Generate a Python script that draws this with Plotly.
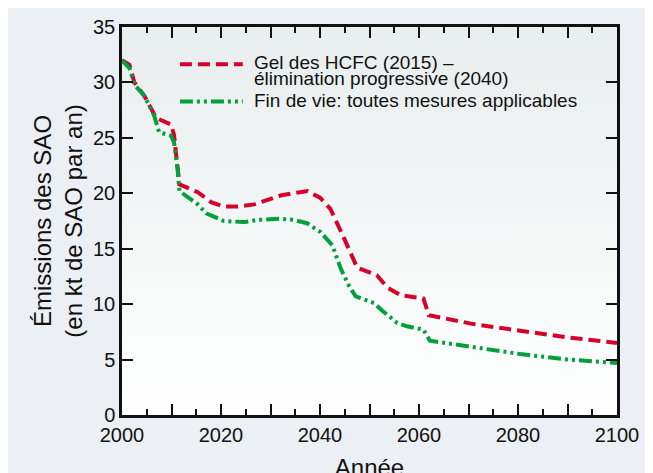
import plotly.graph_objects as go

# Émissions des SAO (kt de SAO par an)
years_gel = [2000, 2001.5, 2002.5, 2004.5, 2006.9, 2008.2, 2009.9, 2010.5, 2011.6,
             2015.3, 2018, 2020.6, 2023.3, 2026.7, 2032, 2036, 2037.5, 2040, 2042.1,
             2044.8, 2047.5, 2051.5, 2053.6, 2056.3, 2060.9, 2062, 2071, 2080.4, 2090, 2100]
gel = [32.0, 31.6, 30.0, 28.8, 26.8, 26.5, 26.2, 25.3, 20.8,
       20.1, 19.2, 18.8, 18.8, 19.0, 19.8, 20.1, 20.2, 19.6, 18.6,
       16.0, 13.3, 12.6, 11.5, 10.8, 10.5, 9.0, 8.2, 7.6, 7.0, 6.5]

years_fin = [2000, 2001.5, 2002.5, 2004.5, 2006.5, 2007.5, 2009.9, 2010.5, 2011.2, 2011.6,
             2015.3, 2017, 2020.6, 2024.7, 2027.4, 2032.1, 2034.7, 2037.4, 2040.1, 2042.5,
             2044.2, 2045.8, 2047.2, 2050.9, 2052.6, 2055.6, 2057.6, 2060.9, 2062.2,
             2071, 2080.4, 2090, 2100]
fin = [32.0, 31.3, 29.8, 28.8, 27.0, 25.5, 25.2, 24.6, 22.3, 20.2,
       19.0, 18.2, 17.5, 17.4, 17.6, 17.7, 17.6, 17.3, 16.5, 15.3,
       13.2, 11.7, 10.7, 10.1, 9.4, 8.3, 8.0, 7.7, 6.7,
       6.1, 5.5, 5.0, 4.7]

RED = '#d6002a'
GREEN = '#00a03c'
RED_DASH = '12px,6px'
GREEN_DASH = '13px,4px,3px,4px,3px,4px'

fig = go.Figure()

# fond dégradé de la zone de tracé
fig.add_trace(go.Scatter(
    x=[2000, 2100, 2100, 2000, 2000], y=[0, 0, 35, 35, 0],
    mode='none', fill='toself', hoverinfo='skip', showlegend=False,
    fillgradient=dict(type='vertical', colorscale=[[0, '#ffffff'], [1, '#e8eded']])
))

fig.add_trace(go.Scatter(x=years_gel, y=gel, mode='lines', showlegend=False,
                         line=dict(color=RED, width=4, dash=RED_DASH)))
fig.add_trace(go.Scatter(x=years_fin, y=fin, mode='lines', showlegend=False,
                         line=dict(color=GREEN, width=4, dash=GREEN_DASH)))

# légende (échantillons + texte) placée comme dans l'original
fig.add_shape(type='line', xref='paper', yref='paper', x0=0.117, x1=0.244, y0=0.904, y1=0.904,
              line=dict(color=RED, width=4, dash=RED_DASH))
fig.add_shape(type='line', xref='paper', yref='paper', x0=0.117, x1=0.244, y0=0.808, y1=0.808,
              line=dict(color=GREEN, width=4, dash=GREEN_DASH))
for txt, yy in [('Gel des HCFC (2015) –', 0.908),
                ('élimination progressive (2040)', 0.867),
                ('Fin de vie: toutes mesures applicables', 0.811)]:
    fig.add_annotation(text=txt, xref='paper', yref='paper', x=0.262, y=yy,
                       xanchor='left', yanchor='middle', showarrow=False,
                       font=dict(size=19, color='#111111'))

fig.update_layout(
    width=653, height=473,
    margin=dict(l=114, r=44, t=19, b=66),
    paper_bgcolor='#eceff3',
    plot_bgcolor='#fbfcfc',
    font=dict(family='Liberation Sans, Arial, sans-serif', color='#111111', size=20),
    showlegend=False,
)
fig.update_xaxes(
    range=[2000, 2100], tickvals=list(range(2000, 2101, 10)),
    ticktext=['2000', '', '2020', '', '2040', '', '2060', '', '2080', '', '2100'],
    ticks='inside', ticklen=11, tickwidth=1.5, tickcolor='#111111',
    minor=dict(dtick=5, ticks='inside', ticklen=6, tickwidth=1.5, tickcolor='#111111'),
    showline=True, linecolor='#111111', linewidth=2.5, mirror='ticks',
    showgrid=False, zeroline=False, automargin=False, ticklabelstandoff=0,
    title=dict(text='Année', standoff=30),
)
fig.update_yaxes(
    range=[0, 35], dtick=5,
    ticks='inside', ticklen=11, tickwidth=1.5, tickcolor='#111111',
    showline=True, linecolor='#111111', linewidth=2.5, mirror='ticks',
    showgrid=False, zeroline=False, automargin=False,
    title=dict(text='Émissions des SAO<br>(en kt de SAO par an)', standoff=4),
)

fig.write_html('out.html')
